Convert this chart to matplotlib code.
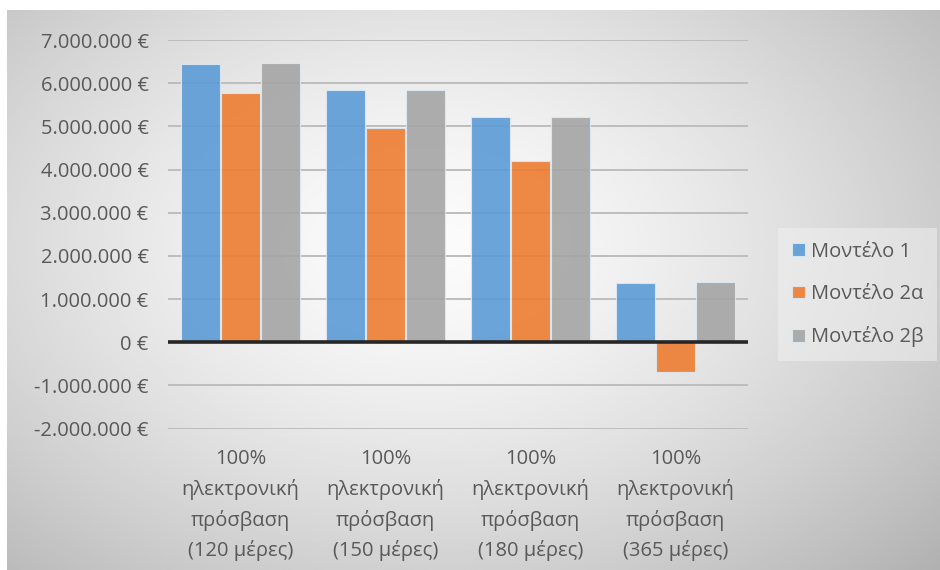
import numpy as np
import matplotlib.pyplot as plt
from matplotlib.ticker import FuncFormatter

categories = [
    "100%\nηλεκτρονική\nπρόσβαση\n(120 μέρες)",
    "100%\nηλεκτρονική\nπρόσβαση\n(150 μέρες)",
    "100%\nηλεκτρονική\nπρόσβαση\n(180 μέρες)",
    "100%\nηλεκτρονική\nπρόσβαση\n(365 μέρες)",
]
series_names = ["Μοντέλο 1", "Μοντέλο 2α", "Μοντέλο 2β"]
model_1 = [6450000, 5840000, 5230000, 1370000]
model_2a = [5780000, 4970000, 4190000, -680000]
model_2b = [6480000, 5840000, 5230000, 1390000]
yticks = list(range(-2000000, 7000001, 1000000))

colors = ["#5b9bd5", "#ed7d31", "#a5a5a5"]
text_color = "#595959"

plt.rcParams["font.family"] = ["Open Sans", "DejaVu Sans"]


def euro(v, _pos):
    s = f"{abs(int(v)):,}".replace(",", ".")
    return ("-" if v < 0 else "") + s + " €"


fig = plt.figure(figsize=(9.4, 5.7), dpi=100)

# radial grey background like the Excel chart area
bg = fig.add_axes([7 / 940, 0, 1 - 7 / 940, 1 - 10 / 570], zorder=-10)
xx, yy = np.meshgrid(np.linspace(0, 1, 400), np.linspace(0, 1, 300))
r = np.sqrt(((xx - 0.45) / 0.72) ** 2 + ((yy - 0.42) / 0.8) ** 2)
shade = 0.985 - 0.27 * np.clip(r, 0, 1.2) ** 1.5
bg.imshow(shade, cmap="gray", vmin=0, vmax=1, aspect="auto",
          extent=[0, 1, 1, 0], interpolation="bilinear")
bg.axis("off")

ax = fig.add_axes([168 / 940, 1 - 428.6 / 570, 580 / 940, 388.5 / 570])
ax.patch.set_alpha(0)

x = np.arange(len(categories))
width = 0.265
for i, (vals, name) in enumerate(zip([model_1, model_2a, model_2b], series_names)):
    ax.bar(x + (i - 1) * (width + 0.01), vals, width, color=colors[i],
           edgecolor="#dce9f5", linewidth=0.8, label=name, zorder=3, alpha=0.9)

ax.set_xlim(-0.5, len(categories) - 0.5)
ax.set_ylim(-2000000, 7000000)
ax.set_yticks(yticks)
ax.yaxis.set_major_formatter(FuncFormatter(euro))
ax.grid(axis="y", color="#bdbdbd", linewidth=1.4, zorder=0)
ax.axhline(0, color="#262626", linewidth=2.6, zorder=4)

ax.set_xticks(x)
ax.set_xticklabels(categories, linespacing=1.6)
ax.tick_params(axis="both", length=0, colors=text_color, labelsize=14.5)
ax.tick_params(axis="x", pad=15)
ax.tick_params(axis="y", pad=14)
for s in ax.spines.values():
    s.set_visible(False)

leg = ax.legend(loc="center left", bbox_to_anchor=(1.035, 0.345), frameon=True,
                fontsize=14.5, handlelength=0.6, handleheight=0.6,
                handletextpad=0.3, labelspacing=1.1, borderpad=0.7,
                fancybox=False, labelcolor=text_color)
leg.get_frame().set_facecolor("#f2f2f2")
leg.get_frame().set_alpha(0.5)
leg.get_frame().set_edgecolor("none")

fig.savefig("out.png", dpi=100)
